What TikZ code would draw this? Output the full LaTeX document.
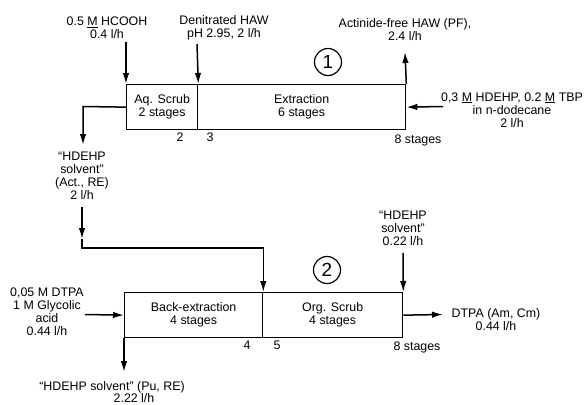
\documentclass[tikz,border=0pt]{standalone}
\usepackage{fontspec}
\setmainfont{Liberation Sans}
\usetikzlibrary{arrows.meta}
\begin{document}
\begin{tikzpicture}[x=1pt,y=-1pt,
  every node/.style={font=\fontsize{12.4}{13}\selectfont, inner sep=0pt, align=center},
  box/.style={draw, line width=1.3pt, minimum height=45pt, anchor=north west},
  arr/.style={line width=1.5pt, -{Latex[length=11pt,width=6.5pt]}},
  num/.style={draw, circle, line width=1.2pt, minimum size=27pt, font=\fontsize{19}{19}\selectfont}]
\useasboundingbox (0,0) rectangle (588,404);
% boxes
\node[box, minimum width=71pt] (aq) at (126,84) {Aq. Scrub\\2 stages};
\node[box, minimum width=208pt] (ext) at (197,84) {Extraction\\6 stages};
\node[box, minimum width=138pt] (back) at (124,292) {Back-extraction\\4 stages};
\node[box, minimum width=140pt] (org) at (262,292) {Org. Scrub\\4 stages};
% circles
\node[num] (n1) at (328,62) {1};
\node[num] (n2) at (327,270) {2};
% labels
\node (lhc) at (107,28) {0.5 \underline{M} HCOOH\\0.4 l/h};
\node (lhaw) at (224,28) {Denitrated HAW\\pH 2.95, 2 l/h};
\node (lpf) at (405,30) {Actinide-free HAW (PF),\\2.4 l/h};
\node (lorg) at (512,110) {0,3 \underline{M} HDEHP, 0.2 \underline{M} TBP\\in n-dodecane\\2 l/h};
\node (lsol1) at (82,176) {“HDEHP\\solvent”\\(Act., RE)\\2 l/h};
\node (lsol2) at (403,228) {“HDEHP\\solvent”\\0.22 l/h};
\node (ldtpa) at (47,312) {0,05 M DTPA\\1 M Glycolic\\acid\\0.44 l/h};
\node (lpu) at (112,387) {“HDEHP solvent” (Pu, RE)};
\node (lpu2) at (134,398) {2.22 l/h};
\node (lam) at (496,320) {DTPA (Am, Cm)\\0.44 l/h};
% stage numbers
\node (s2) at (180,137) {2};
\node (s3) at (210,137) {3};
\node (s8a) at (418,140) {8 stages};
\node (s4) at (247,345) {4};
\node (s5) at (277,345) {5};
\node (s8b) at (417,347) {8 stages};
% coordinates
\coordinate (c1) at (126,42);
\coordinate (c2) at (197,44);
\coordinate (c3) at (405,52);
\coordinate (c4) at (443,106.5);
\coordinate (c5) at (83,106.5);
\coordinate (c6) at (83,145);
\coordinate (c7) at (82,207);
\coordinate (c8) at (82,239);
\coordinate (c9) at (82,248);
\coordinate (c10) at (403,253);
\coordinate (c11) at (85,314.5);
\coordinate (c12) at (124,372);
\coordinate (c13) at (443,314.5);
% connectors
\draw[arr] (c1) -- (aq.north west);
\draw[arr] (c2) -- (aq.north east);
\draw[arr] (ext.north east) -- (c3);
\draw[arr] (c4) -- (ext.east);
\draw[arr] (aq.west) -- (c5) -- (c6);
\draw[arr] (c7) -- (c8);
\draw[arr] (c8) -- (c9) -| (back.north east);
\draw[arr] (c10) -- (org.north east);
\draw[arr] (c11) -- (back.west);
\draw[arr] (back.south west) -- (c12);
\draw[arr] (org.east) -- (c13);
\end{tikzpicture}
\end{document}
